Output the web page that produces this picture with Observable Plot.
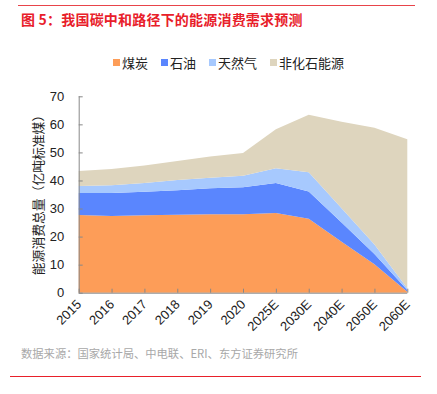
<!DOCTYPE html>
<html><head><meta charset="utf-8">
<script src="https://cdn.jsdelivr.net/npm/d3@7"></script>
<script src="https://cdn.jsdelivr.net/npm/@observablehq/plot@0.6"></script>
<style>
body{margin:0;background:#fff;font-family:"Liberation Sans","Noto Sans CJK SC",sans-serif;}
#wrap{position:relative;width:437px;height:394px;overflow:hidden;}
.topline{position:absolute;left:18px;width:397px;top:5px;height:1px;background:#e8444a;}
.title{position:absolute;left:21px;top:9px;font-size:14px;font-weight:bold;color:#e8202a;font-family:"Noto Sans CJK SC",sans-serif;letter-spacing:0.2px;}
.legend{position:absolute;top:53px;left:113px;display:flex;font-size:13px;color:#222;font-family:"Noto Sans CJK SC",sans-serif;}
.legend span.item{display:flex;align-items:center;margin-right:13px;}
.legend span.sw{display:inline-block;width:7px;height:7px;margin-right:2px;}
#chart{position:absolute;left:0;top:80px;}
.ylabel{position:absolute;left:37px;top:191.5px;transform:translate(-50%,-50%) rotate(-90deg);white-space:nowrap;font-size:12.8px;color:#222;font-family:"Noto Sans CJK SC",sans-serif;}
.caption{position:absolute;left:21px;top:345px;font-size:11.3px;color:#a8a8a8;font-family:"Noto Sans CJK SC",sans-serif;}
.botline{position:absolute;left:10px;width:411px;top:376px;height:1px;background:#e8202a;}
</style></head>
<body><div id="wrap">
<div class="topline"></div>
<div class="title">图 5：我国碳中和路径下的能源消费需求预测</div>
<div class="legend" id="legend"></div>
<div id="chart"></div>
<div class="ylabel">能源消费总量（亿吨标准煤）</div>
<div class="caption">数据来源：国家统计局、中电联、ERI、东方证券研究所</div>
<div class="botline"></div>
</div>
<script>
const years = ["2015","2016","2017","2018","2019","2020","2025E","2030E","2040E","2050E","2060E"];
const seriesNames = ["煤炭","石油","天然气","非化石能源"];
const seriesColors = ["#fd9d58","#5a86fe","#a7c9fe","#ded5be"];
const coal = [27.7,27.3,27.6,27.8,28.0,28.0,28.4,26.4,18.2,10.1,0.3];
const oil = [7.8,8.2,8.4,8.7,9.2,9.6,10.7,9.7,6.8,3.7,0.7];
const gas = [2.5,2.8,3.1,3.7,3.8,4.1,5.3,6.8,5.1,3.4,0.6];
const nonFossil = [5.4,5.8,6.2,6.7,7.5,8.1,13.9,20.5,30.8,41.6,53.1];
const yTicks = [0,10,20,30,40,50,60,70];

const seriesValues = [coal, oil, gas, nonFossil];
const data = [];
seriesNames.forEach((s, k) => years.forEach((y, i) => data.push({i, series: s, value: seriesValues[k][i]})));

const legend = document.getElementById("legend");
seriesNames.forEach((s, k) => {
  const it = document.createElement("span");
  it.className = "item";
  it.innerHTML = `<span class="sw" style="background:${seriesColors[k]}"></span>${s}`;
  legend.appendChild(it);
});

const chart = Plot.plot({
  width: 437,
  height: 260,
  marginTop: 16.3,
  marginLeft: 78.7,
  marginRight: 29.7,
  marginBottom: 47.3,
  style: {fontFamily: "Liberation Sans, Arial, sans-serif", fontSize: "13px", color: "#222"},
  x: {type: "linear", domain: [0, years.length - 1]},
  y: {domain: [0, 70]},
  color: {domain: seriesNames, range: seriesColors},
  marks: [
    Plot.areaY(data, {x: "i", y: "value", fill: "series", order: seriesNames}),
    Plot.axisX({ticks: years.map((d, i) => i), tickFormat: i => years[i], tickRotate: -45, tickSize: -4, tickPadding: 13, stroke: "#888", fontSize: 13, label: null}),
    Plot.axisY({ticks: yTicks, tickSize: -4, tickPadding: 19, stroke: "#888", fontSize: 13, tickFormat: d => d, label: null}),
    Plot.ruleY([0], {stroke: "#888"}),
    Plot.ruleX([0], {stroke: "#888"})
  ]
});
document.getElementById("chart").appendChild(chart);
</script>
</body></html>
